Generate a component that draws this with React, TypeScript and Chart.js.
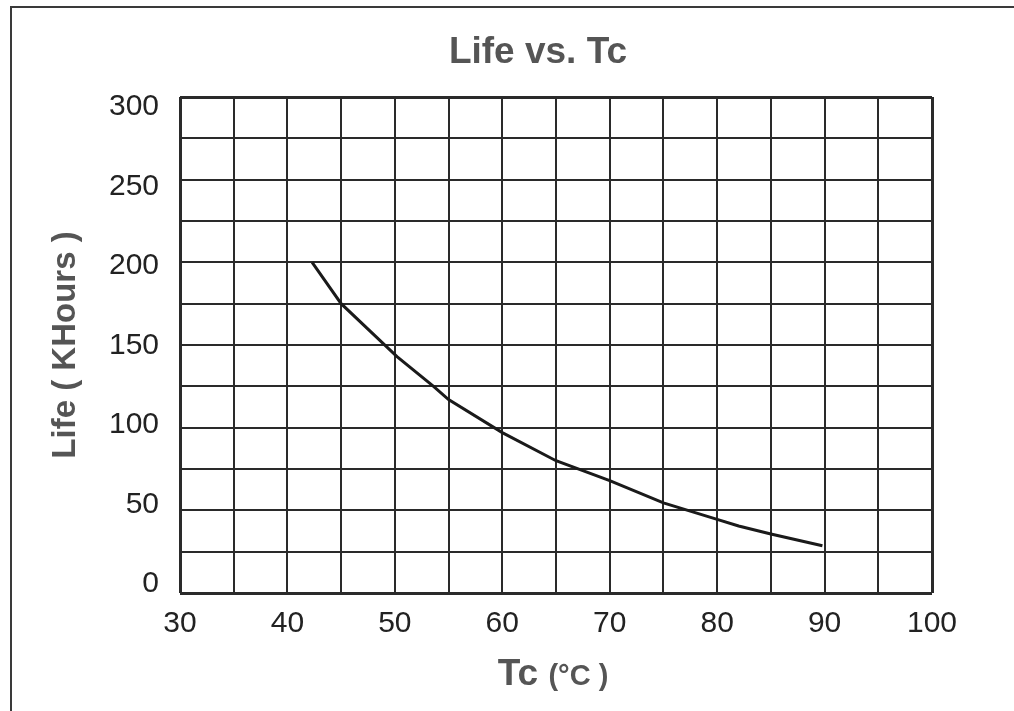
import React, { useEffect, useRef } from "react";
import { Chart, registerables } from "chart.js";

Chart.register(...registerables);

const tcValues = [42.3, 45, 50.2, 53.6, 55, 60, 65, 70, 75, 80, 82, 85, 89.8];
const lifeValues = [200, 175, 143, 125, 117, 97, 80, 68, 54.5, 44.5, 40.5, 35.7, 28.6];
const yTickLabels = [0, 50, 100, 150, 200, 250, 300];
const xTickLabels = [30, 40, 50, 60, 70, 80, 90, 100];

const titleText = "Life vs. Tc";
const yTitleText = "Life ( KHours )";
const xTitleMain = "Tc";
const xTitleUnit = "(°C )";

const FONT = "'Liberation Sans', Arial, Helvetica, sans-serif";

const decorPlugin = {
  id: "decor",
  beforeDraw(chart: any) {
    const ctx = chart.ctx;
    ctx.save();
    ctx.fillStyle = "#ffffff";
    ctx.fillRect(0, 0, chart.width, chart.height);
    ctx.strokeStyle = "#3a3a3a";
    ctx.lineWidth = 2;
    ctx.strokeRect(11, 7, chart.width + 40, chart.height + 40);
    ctx.restore();
  },
  afterDraw(chart: any) {
    const ctx = chart.ctx;
    const area = chart.chartArea;
    ctx.save();
    ctx.fillStyle = "#555555";
    // title
    ctx.font = `bold 37px ${FONT}`;
    ctx.textAlign = "center";
    ctx.textBaseline = "alphabetic";
    ctx.fillText(titleText, 538, 63);
    // y title
    ctx.save();
    ctx.translate(75, (area.top + area.bottom) / 2);
    ctx.rotate(-Math.PI / 2);
    ctx.font = `bold 33px ${FONT}`;
    ctx.textAlign = "center";
    ctx.fillText(yTitleText, 0, 0);
    ctx.restore();
    // x title with mixed sizes
    ctx.textAlign = "left";
    ctx.font = `bold 37px ${FONT}`;
    const w1 = ctx.measureText(xTitleMain + " ").width;
    ctx.font = `bold 29px ${FONT}`;
    const w2 = ctx.measureText(xTitleUnit).width;
    const total = w1 + w2;
    const startX = 553 - total / 2;
    ctx.font = `bold 37px ${FONT}`;
    ctx.fillText(xTitleMain, startX, 685);
    ctx.font = `bold 29px ${FONT}`;
    ctx.fillText(xTitleUnit, startX + w1, 685);
    ctx.restore();
  },
};

export default function App() {
  const ref = useRef<HTMLCanvasElement | null>(null);
  useEffect(() => {
    if (!ref.current) return;
    const points = tcValues.map((x, i) => ({ x, y: lifeValues[i] }));
    const chart = new Chart(ref.current, {
      type: "line",
      data: {
        datasets: [
          {
            data: points,
            borderColor: "#1a1a1a",
            borderWidth: 3,
            pointRadius: 0,
            tension: 0,
            fill: false,
          },
        ],
      },
      options: {
        animation: false,
        responsive: false,
        devicePixelRatio: 1,
        layout: { padding: { left: 0, top: 97, right: 82, bottom: 0 } },
        plugins: { legend: { display: false }, tooltip: { enabled: false }, title: { display: false } },
        scales: {
          x: {
            type: "linear",
            min: 30,
            max: 100,
            border: { display: false },
            grid: {
              color: "#2a2a2a",
              lineWidth: (c: any) => (c.tick && (c.tick.value === 30 || c.tick.value === 100) ? 3 : 2),
              drawTicks: false,
            },
            ticks: {
              stepSize: 5,
              autoSkip: false,
              maxRotation: 0,
              padding: 13,
              color: "#222222",
              font: { family: FONT, size: 30 },
              callback: (v: any) => (xTickLabels.includes(Number(v)) ? String(v) : ""),
            },
            afterFit: (s: any) => {
              s.height = 118;
            },
          },
          y: {
            type: "linear",
            position: "left",
            min: 0,
            max: 300,
            border: { display: false },
            grid: {
              color: "#2a2a2a",
              lineWidth: (c: any) => (c.tick && (c.tick.value === 0 || c.tick.value === 300) ? 3 : 2),
              drawTicks: false,
            },
            ticks: { stepSize: 25, display: false },
            afterFit: (s: any) => {
              s.width = 0;
            },
          },
          yl: {
            type: "linear",
            position: "left",
            min: -5.7,
            max: 306.3,
            border: { display: false },
            grid: { display: false, drawTicks: false },
            ticks: {
              padding: 21,
              color: "#222222",
              font: { family: FONT, size: 30 },
              autoSkip: false,
            },
            afterBuildTicks: (s: any) => {
              s.ticks = yTickLabels.map((v) => ({ value: v }));
            },
            afterFit: (s: any) => {
              s.width = 180;
            },
          },
        },
      },
      plugins: [decorPlugin],
    });
    return () => chart.destroy();
  }, []);
  return (
    <div style={{ position: "absolute", left: 0, top: 0, width: 1014, height: 711 }}>
      <canvas ref={ref} width={1014} height={711} style={{ width: 1014, height: 711, display: "block" }} />
    </div>
  );
}
